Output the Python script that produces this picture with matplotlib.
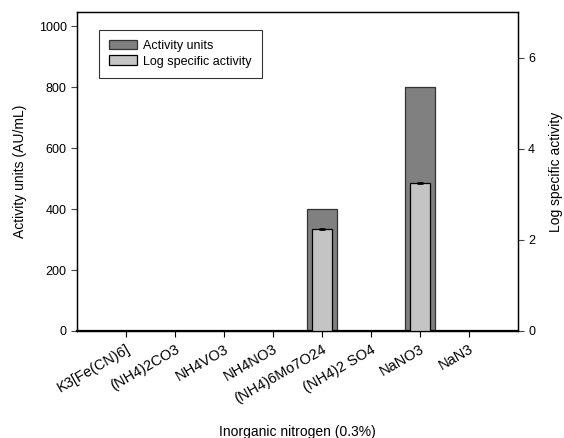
import matplotlib

matplotlib.use("Agg")
import matplotlib.pyplot as plt
import numpy as np

plt.rcParams["font.family"] = ["Liberation Sans", "DejaVu Sans"]

# Nitrogen sources and measured responses
SOURCES = [
    "K3[Fe(CN)6]",
    "(NH4)2CO3",
    "NH4VO3",
    "NH4NO3",
    "(NH4)6Mo7O24",
    "(NH4)2 SO4",
    "NaNO3",
    "NaN3",
]
ACTIVITY_UNITS = [0, 0, 0, 0, 400, 0, 800, 0]
LOG_SPECIFIC = [0, 0, 0, 0, 2.24, 0, 3.25, 0]
LOG_ERR = [0, 0, 0, 0, 0.02, 0, 0.02, 0]

DARK = "#808080"
LIGHT = "#c4c4c4"

fig = plt.figure(figsize=(5.64, 4.38), dpi=100)
ax = fig.add_axes([0.1365, 0.2443, 0.7815, 0.7283])
ax2 = ax.twinx()

x = np.arange(len(SOURCES))
ax.bar(x, ACTIVITY_UNITS, width=0.62, color=DARK, edgecolor="#333333",
       linewidth=0.9, label="Activity units", zorder=2)
ax2.bar(x, LOG_SPECIFIC, width=0.41, color=LIGHT, edgecolor="black",
        linewidth=0.9, label="Log specific activity", zorder=3)
for xi, v, e in zip(x, LOG_SPECIFIC, LOG_ERR):
    if v > 0:
        ax2.errorbar(xi, v, yerr=e, color="black", capsize=2, lw=0.6,
                     capthick=0.6, zorder=4)

ax.set_xlim(-1, len(SOURCES))
ax.set_ylim(0, 1046)
ax2.set_ylim(0, 7)
ax.set_yticks([0, 200, 400, 600, 800, 1000])
ax2.set_yticks([0, 2, 4, 6])

ax.set_xticks(x)
ax.set_xticklabels(SOURCES, rotation=30, ha="right", rotation_mode="anchor",
                   fontsize=10.5)
ax.tick_params(axis="x", length=4, width=0.8, pad=4)
ax.tick_params(axis="y", labelsize=9, length=4, width=0.8, color="#444444")
ax2.tick_params(axis="y", labelsize=9, length=4, width=0.8, color="#444444")

ax.set_ylabel("Activity units (AU/mL)", fontsize=10, labelpad=8)
ax2.set_ylabel("Log specific activity", fontsize=10, labelpad=10)
ax.set_xlabel("Inorganic nitrogen (0.3%)", fontsize=10, labelpad=14)

for sp in ax.spines.values():
    sp.set_linewidth(0.9)
for sp in ax2.spines.values():
    sp.set_linewidth(0.9)
ax2.spines["bottom"].set_linewidth(1.6)

# Combined legend for both axes
h1, l1 = ax.get_legend_handles_labels()
h2, l2 = ax2.get_legend_handles_labels()
leg = ax2.legend(h1 + h2, l1 + l2, loc="upper left",
                 bbox_to_anchor=(0.05, 0.945), fontsize=9, frameon=True,
                 fancybox=False, edgecolor="black", handlelength=2.2,
                 handleheight=0.8, handletextpad=0.55, borderpad=0.8,
                 labelspacing=0.3, borderaxespad=0)
leg.get_frame().set_linewidth(0.8)

fig.savefig("out.png", dpi=100, facecolor="white")
